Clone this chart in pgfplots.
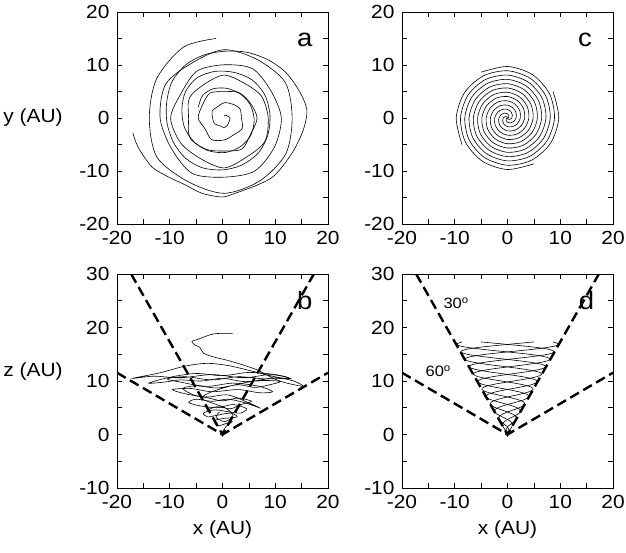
\documentclass[border=0pt]{standalone}
\usepackage{pgfplots}
\pgfplotsset{compat=1.18}
\usepackage{pgfplotstable}
\usepackage{fontspec}
\setmainfont{Liberation Sans}[FakeStretch=1.1]

% four arms of the model trajectory (x, y, z)
\pgfplotstableread{
x y z
0 0 0
0.234 0.135 0.468
0.270 0.468 0.935
0 0.810 1.403
-0.540 0.935 1.871
-1.169 0.675 2.339
-1.620 0 2.806
-1.637 -0.945 3.274
-1.080 -1.871 3.742
0 -2.430 4.209
1.350 -2.338 4.677
2.572 -1.485 5.145
3.240 0 5.612
3.040 1.755 6.080
1.890 3.274 6.548
0 4.050 7.016
-2.160 3.741 7.483
-3.975 2.295 7.951
-4.860 0 8.419
-4.443 -2.565 8.886
-2.700 -4.676 9.354
0 -5.670 9.822
2.970 -5.144 10.290
5.378 -3.105 10.757
6.480 0 11.225
5.846 3.375 11.693
3.510 6.079 12.160
0 7.290 12.628
-3.780 6.547 13.096
-6.781 3.915 13.564
-8.100 0 14.031
-7.248 -4.185 14.499
-4.320 -7.482 14.967
0 -8.910 15.434
4.590 -7.950 15.902
8.184 -4.725 16.370
9.720 0 16.837
8.651 4.995 17.305
}\armA
\pgfplotstableread{
x y z
0 0 0
-0.135 0.234 0.468
-0.468 0.270 0.935
-0.810 0 1.403
-0.935 -0.540 1.871
-0.675 -1.169 2.339
0 -1.620 2.806
0.945 -1.637 3.274
1.871 -1.080 3.742
2.430 0 4.209
2.338 1.350 4.677
1.485 2.572 5.145
0 3.240 5.612
-1.755 3.040 6.080
-3.274 1.890 6.548
-4.050 0 7.016
-3.741 -2.160 7.483
-2.295 -3.975 7.951
0 -4.860 8.419
2.565 -4.443 8.886
4.676 -2.700 9.354
5.670 0 9.822
5.144 2.970 10.290
3.105 5.378 10.757
0 6.480 11.225
-3.375 5.846 11.693
-6.079 3.510 12.160
-7.290 0 12.628
-6.547 -3.780 13.096
-3.915 -6.781 13.564
0 -8.100 14.031
4.185 -7.248 14.499
7.482 -4.320 14.967
8.910 0 15.434
7.950 4.590 15.902
4.725 8.184 16.370
0 9.720 16.837
-4.995 8.651 17.305
}\armB
\pgfplotstableread{
x y z
0 0 0
-0.234 -0.135 0.468
-0.270 -0.468 0.935
0 -0.810 1.403
0.540 -0.935 1.871
1.169 -0.675 2.339
1.620 0 2.806
1.637 0.945 3.274
1.080 1.871 3.742
0 2.430 4.209
-1.350 2.338 4.677
-2.572 1.485 5.145
-3.240 0 5.612
-3.040 -1.755 6.080
-1.890 -3.274 6.548
0 -4.050 7.016
2.160 -3.741 7.483
3.975 -2.295 7.951
4.860 0 8.419
4.443 2.565 8.886
2.700 4.676 9.354
0 5.670 9.822
-2.970 5.144 10.290
-5.378 3.105 10.757
-6.480 0 11.225
-5.846 -3.375 11.693
-3.510 -6.079 12.160
0 -7.290 12.628
3.780 -6.547 13.096
6.781 -3.915 13.564
8.100 0 14.031
7.248 4.185 14.499
4.320 7.482 14.967
0 8.910 15.434
-4.590 7.950 15.902
-8.184 4.725 16.370
-9.720 0 16.837
-8.651 -4.995 17.305
}\armC
\pgfplotstableread{
x y z
0 0 0
0.135 -0.234 0.468
0.468 -0.270 0.935
0.810 0 1.403
0.935 0.540 1.871
0.675 1.169 2.339
0 1.620 2.806
-0.945 1.637 3.274
-1.871 1.080 3.742
-2.430 0 4.209
-2.338 -1.350 4.677
-1.485 -2.572 5.145
0 -3.240 5.612
1.755 -3.040 6.080
3.274 -1.890 6.548
4.050 0 7.016
3.741 2.160 7.483
2.295 3.975 7.951
0 4.860 8.419
-2.565 4.443 8.886
-4.676 2.700 9.354
-5.670 0 9.822
-5.144 -2.970 10.290
-3.105 -5.378 10.757
0 -6.480 11.225
3.375 -5.846 11.693
6.079 -3.510 12.160
7.290 0 12.628
6.547 3.780 13.096
3.915 6.781 13.564
0 8.100 14.031
-4.185 7.248 14.499
-7.482 4.320 14.967
-8.910 0 15.434
-7.950 -4.590 15.902
-4.725 -8.184 16.370
0 -9.720 16.837
4.995 -8.651 17.305
}\armD

\tikzset{
  lbl/.style={font=\fontsize{19}{21}\selectfont},
  letter/.style={anchor=base, font=\fontsize{25}{28}\selectfont},
  deg/.style={anchor=base west, font=\fontsize{15}{17}\selectfont},
}
\pgfplotsset{
  panel/.style={
    scale only axis, width=211pt,
    xmin=-20, xmax=20,
    xtick={-20,-10,0,10,20}, xticklabels={-20,-10,0,10,20},
    minor tick num=1,
    tick align=inside,
    major tick length=5pt, minor tick length=5pt,
    every tick/.style={black, line width=0.6pt},
    axis line style={line width=0.7pt},
    tick label style={font=\fontsize{19}{21}\selectfont},
    xticklabel style={yshift=-3.7pt},
    yticklabel style={xshift=-4pt},
    clip mode=individual,
  },
  traj/.style={black, line width=0.6pt, smooth, no markers},
  cone/.style={black, line width=2.4pt, dash pattern=on 10pt off 5pt, no markers},
}

\begin{document}
\begin{tikzpicture}
\path[use as bounding box] (0,0) rectangle (626pt,552pt);

% ---------- panel a ----------
\begin{axis}[panel, at={(117pt,328pt)}, anchor=south west, height=212pt,
  ymin=-20, ymax=20, ytick={-20,-10,0,10,20}, yticklabels={-20,-10,0,10,20}]
\addplot[traj] coordinates {
(0.3,0.4) (0.634,0.578) (0.953,0.377) (1.425,0) (1.279,-0.566) (1.026,-1.257)
(0.3,-1.817) (-0.538,-1.451) (-1.55,-1.068) (-1.869,0) (-1.959,1.305) (-0.932,2.133)
(0.3,2.876) (1.826,2.643) (3.307,1.736) (3.598,0) (3.739,-1.986) (2.127,-3.164)
(0.3,-4.147) (-2.054,-4.076) (-3.296,-2.077) (-4.597,0) (-3.819,2.378) (-2.407,4.688)
(0.3,4.963) (3.075,4.805) (5.24,2.852) (6.558,0) (5.376,-2.931) (3.683,-5.859)
(0.3,-6.22) (-3.112,-5.91) (-6.176,-3.739) (-6.432,0) (-6.269,3.793) (-3.395,6.4)
(0.3,8.094) (4.099,6.58) (7.403,4.101) (8.656,0) (8.016,-4.455) (4.557,-7.373)
(0.3,-9.418) (-4.136,-7.683) (-7.906,-4.738) (-9.83,0) (-7.827,4.692) (-4.819,8.866)
(0.3,10.042) (5.673,9.306) (9.177,5.125) (11.154,0) (9.833,-5.504) (6.081,-10.013)
(0.3,-11.166) (-5.735,-10.453) (-9.68,-5.762) (-11.828,0) (-10.769,6.391) (-5.718,10.423)
(0.3,12.89) (6.647,10.993) (11.903,6.699) (13.202,0) (11.996,-6.753) (7.13,-11.83)
(0.3,-14.214) (-6.609,-11.966) (-12.449,-7.361) (-13.876,0) (-12.499,7.39) (-7.417,13.366)
(-1.2,15.0)};
\addplot[traj] coordinates {
(-17,-2.8) (-16,-5.5) (-13.4,-9.2) (-10.3,-11.1) (-7.1,-12.6) (-3.9,-14.2) (-0.1,-14.9)
(2.4,-14.2) (6.7,-12.6) (9.9,-10.8) (13.2,-6.6) (15.3,-2.3) (16,1.5) (14.6,5) (12,8.6)
(8.6,11) (4.6,12.4) (0.5,12.6) (-3.5,11.9) (-7,10) (-9.6,6.8) (-10.6,2.8) (-10.5,-1)
(-9.3,-4.6) (-7,-7.6) (-3.8,-9.4) (0,-9.8) (3.6,-8.9) (6.8,-6.6) (8.6,-3.2) (9,0.6)
(8,4.4) (5.6,7.2) (2.2,8.6) (-1.4,8.8) (-4.8,7.6) (-7,5) (-7.7,1.6) (-7.2,-1.8)
(-5.3,-4.6) (-2.6,-6.2) (0.6,-6.5) (3.4,-5.4) (5.4,-3.2) (6,-0.2) (5.2,2.6) (3.3,4.6)
(0.8,5.6) (-1.8,5.5) (-3.8,4.2) (-4.6,2)};
\node[letter] at (axis cs:15.6,13.4) {a};
\node[lbl, anchor=west] at (axis description cs:-0.555,0.5) {y (AU)};
\end{axis}

% ---------- panel c ----------
\begin{axis}[panel, at={(402pt,328pt)}, anchor=south west, height=212pt,
  ymin=-20, ymax=20, ytick={-20,-10,0,10,20}, yticklabels={-20,-10,0,10,20}]
\addplot[traj] table[x=x, y=y] {\armA};
\addplot[traj] table[x=x, y=y] {\armB};
\addplot[traj] table[x=x, y=y] {\armC};
\addplot[traj] table[x=x, y=y] {\armD};
\node[letter] at (axis cs:14.7,13.4) {c};
\end{axis}

% ---------- panel b ----------
\begin{axis}[panel, at={(117pt,64pt)}, anchor=south west, height=214pt,
  ymin=-10, ymax=30, ytick={-10,0,10,20,30}, yticklabels={-10,0,10,20,30}]
\addplot[cone] coordinates {(-17.32,30) (0,0) (17.32,30)};
\addplot[cone] coordinates {(-20,11.547) (0,0) (20,11.547)};
\addplot[traj] coordinates {
(0.0,0.5) (0.8,1.6) (1.8,2.4) (0.5,2.0) (-1.0,1.6) (-1.5,2.6) (0.2,3.0) (2.8,3.3)
(1.5,4.0) (-1.0,3.6) (-2.8,3.3) (-3.6,4.0) (-1.5,4.6) (1.5,4.2) (3.4,4.0) (4.6,4.8)
(2.0,5.6) (-1.0,5.0) (-4.5,5.4) (-6.4,6.0) (-5.0,6.6) (-2.0,6.2) (1.0,6.6) (4.0,6.0)
(7.0,5.0) (5.0,5.9) (1.0,7.4) (-3.0,7.0) (-7.0,7.6) (-9.5,8.4) (-6.0,8.6) (-2.0,8.0)
(3.0,8.4) (7.0,7.8) (9.5,8.0) (7.0,9.0) (2.0,9.6) (-3.0,9.0) (-8.0,9.8) (-10.5,10.4)
(-7.0,10.8) (-2.0,10.2) (3.0,10.8) (8.0,10.4) (12.5,10.6) (9.0,11.2) (4.0,10.6)
(-2.0,11.2) (-8.0,10.6) (-13.0,10.9) (-17.0,10.5) (-12.0,11.5) (-7.0,12.8) (-3.0,13.3)
(1.0,12.9) (5.0,12.0) (9.0,11.0) (13.5,10.0) (15.3,9.0) (12.2,9.6) (10.3,10.2)
(8.4,11.1) (6.5,12.1) (3.9,13.0) (0.8,13.9) (-1.7,14.5) (-3.6,15.2) (-4.3,16.3)
(-5.2,16.7) (-5.8,17.4) (-4.9,17.7) (-1.7,18.8) (1.9,18.9)};
\addplot[traj] coordinates {
(-3.0,4.5) (-1.0,5.2) (1.5,4.8) (3.5,5.6) (5.5,6.2) (3.0,6.8) (0.0,6.3) (-3.0,6.9)
(-5.5,7.4) (-7.5,8.6) (-5.0,9.1) (-1.0,8.7) (3.0,9.3) (6.0,8.8) (8.5,9.2) (11.0,9.9)
(8.0,10.1) (4.0,9.9) (0.0,10.5) (-4.0,10.0) (-8.0,10.2) (-11.0,9.8) (-14.0,9.6)
(-10.0,10.7) (-5.0,11.4) (0.0,11.0) (5.0,11.6) (10.0,11.2) (13.0,10.4) (10.0,10.6)
(6.0,10.0) (2.0,9.2) (-2.0,8.0) (-4.0,6.8) (-2.0,5.9) (0.5,5.0) (2.0,3.6) (0.5,2.4)
(-1.2,3.2) (-0.6,4.2)};
\node[letter] at (axis cs:15.6,23.3) {b};
\node[lbl, anchor=west] at (axis description cs:-0.555,0.542) {z (AU)};
\node[lbl] at (axis description cs:0.5,-0.196) {x (AU)};
\end{axis}

% ---------- panel d ----------
\begin{axis}[panel, at={(402pt,64pt)}, anchor=south west, height=214pt,
  ymin=-10, ymax=30, ytick={-10,0,10,20,30}, yticklabels={-10,0,10,20,30}]
\addplot[cone] coordinates {(-17.32,30) (0,0) (17.32,30)};
\addplot[cone] coordinates {(-20,11.547) (0,0) (20,11.547)};
\addplot[traj] table[x=x, y=z] {\armA};
\addplot[traj] table[x=x, y=z] {\armB};
\addplot[traj] table[x=x, y=z] {\armC};
\addplot[traj] table[x=x, y=z] {\armD};
\node[letter] at (axis cs:15.0,23.3) {d};
\node[deg] at (axis cs:-12.8,23.6) {30\textsuperscript{o}};
\node[deg] at (axis cs:-16.2,10.75) {60\textsuperscript{o}};
\node[lbl] at (axis description cs:0.5,-0.196) {x (AU)};
\end{axis}
\end{tikzpicture}
\end{document}
